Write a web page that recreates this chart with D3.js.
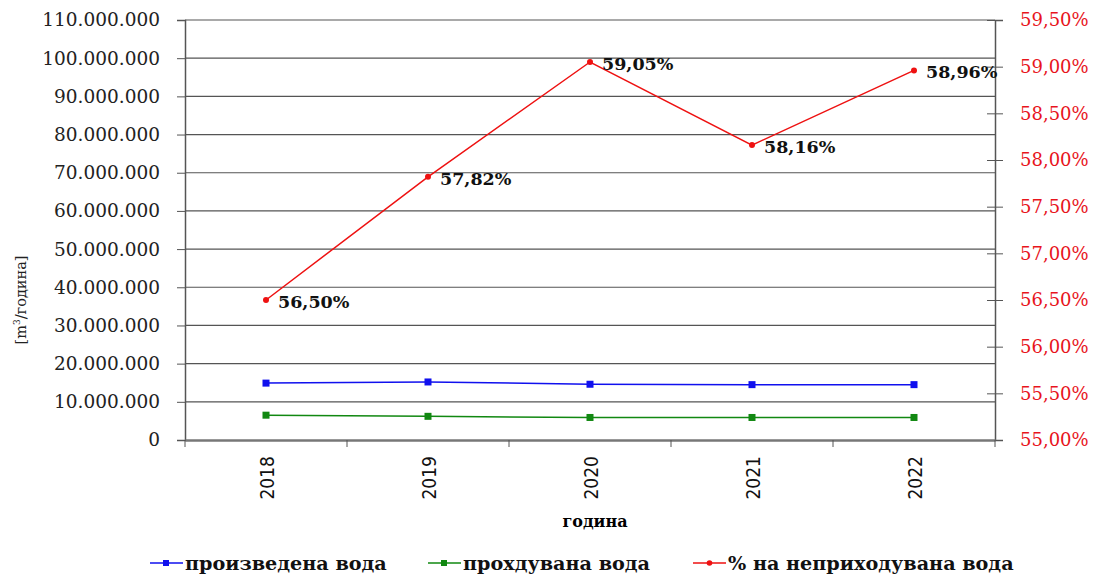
<!DOCTYPE html>
<html>
<head>
<meta charset="utf-8">
<script src="https://cdn.jsdelivr.net/npm/d3@7"></script>
<style>
  body { margin: 0; background: #fff; }
  svg { display: block; }
</style>
</head>
<body>
<svg id="canvas" width="1094" height="576"></svg>
<script>
const years = ['2018', '2019', '2020', '2021', '2022'];
const producedWater = [14900000, 15200000, 14600000, 14500000, 14500000];
const billedWater = [6500000, 6200000, 5900000, 5900000, 5900000];
const nonRevenuePct = [56.50, 57.82, 59.05, 58.16, 58.96];
const leftTicks = d3.range(0, 110000001, 10000000);
const rightTicks = [55, 55.5, 56, 56.5, 57, 57.5, 58, 58.5, 59, 59.5];

const plotLeft = 185, plotRight = 995, plotTop = 20, plotBottom = 440;
const serif = "'DejaVu Serif', serif";

let canvas = d3.select('#canvas');

const x = d3.scaleBand().domain(years).range([plotLeft, plotRight]);
const y = d3.scaleLinear().domain([0, 110000000]).range([plotBottom, plotTop]);
const y2 = d3.scaleLinear().domain([55, 59.5]).range([plotBottom, plotTop]);

const fmtThousands = v => d3.format(',')(v).replace(/,/g, '.');
const fmtPct = v => v.toFixed(2).replace('.', ',') + '%';

// grid
canvas.append('g')
    .selectAll('line')
    .data(leftTicks.slice(1))
    .enter()
    .append('line')
    .attr('x1', plotLeft).attr('x2', plotRight)
    .attr('y1', d => y(d)).attr('y2', d => y(d))
    .attr('stroke', '#555').attr('stroke-width', 1.2);

// left axis
const leftAxis = canvas.append('g')
    .attr('transform', `translate(${plotLeft},0)`)
    .call(d3.axisLeft(y).tickValues(leftTicks).tickFormat(fmtThousands).tickSize(8).tickPadding(17));
leftAxis.select('.domain').attr('stroke', '#555').attr('stroke-width', 1.5);
leftAxis.selectAll('.tick line').attr('stroke', '#555');
leftAxis.selectAll('text').attr('font-family', serif).attr('font-size', 18.5).attr('fill', '#222');

// right axis
const rightAxis = canvas.append('g')
    .attr('transform', `translate(${plotRight},0)`)
    .call(d3.axisRight(y2).tickValues(rightTicks).tickFormat(fmtPct).tickSize(8).tickPadding(17));
rightAxis.select('.domain').attr('stroke', '#555').attr('stroke-width', 1.5);
rightAxis.selectAll('.tick line').attr('stroke', '#555').attr('x1', -8);
rightAxis.selectAll('text').attr('font-family', serif).attr('font-size', 18).attr('fill', '#e8141c');

// bottom axis
const bottomAxis = canvas.append('g')
    .attr('transform', `translate(0,${plotBottom})`)
    .call(d3.axisBottom(x).tickSize(0).tickFormat(''));
bottomAxis.select('.domain').attr('stroke', '#777').attr('stroke-width', 2.5);
canvas.append('g')
    .selectAll('line')
    .data(years.concat(['end']))
    .enter()
    .append('line')
    .attr('x1', (d, i) => plotLeft + i * x.bandwidth())
    .attr('x2', (d, i) => plotLeft + i * x.bandwidth())
    .attr('y1', plotBottom).attr('y2', plotBottom + 7)
    .attr('stroke', '#555');

canvas.append('g')
    .selectAll('text')
    .data(years)
    .enter()
    .append('text')
    .attr('transform', d => `translate(${x(d) + x.bandwidth() / 2 + 8},${plotBottom + 16}) rotate(-90)`)
    .attr('text-anchor', 'end')
    .attr('font-family', "'DejaVu Sans Condensed', 'DejaVu Sans', sans-serif")
    .attr('font-size', 19)
    .attr('fill', '#111')
    .text(d => d);

// axis titles
canvas.append('text')
    .attr('x', 595).attr('y', 527)
    .attr('text-anchor', 'middle')
    .attr('font-family', serif).attr('font-weight', 'bold').attr('font-size', 16)
    .text('година');

const yTitle = canvas.append('text')
    .attr('transform', 'translate(26,300) rotate(-90)')
    .attr('text-anchor', 'middle')
    .attr('font-family', serif).attr('font-size', 14.5).attr('fill', '#222');
yTitle.append('tspan').text('[m');
yTitle.append('tspan').attr('font-size', 9).attr('dy', -6).text('3');
yTitle.append('tspan').attr('dy', 6).text('/година]');

// series
const center = d => x(d) + x.bandwidth() / 2;

const drawSeries = (values, scale, color, marker) => {
    canvas.append('path')
        .datum(values)
        .attr('fill', 'none')
        .attr('stroke', color)
        .attr('stroke-width', 1.5)
        .attr('d', d3.line().x((d, i) => center(years[i])).y(d => scale(d)));

    if (marker === 'square') {
        canvas.append('g')
            .selectAll('rect')
            .data(values)
            .enter()
            .append('rect')
            .attr('x', (d, i) => center(years[i]) - 3.5)
            .attr('y', d => scale(d) - 3.5)
            .attr('width', 7).attr('height', 7)
            .attr('fill', color);
    } else {
        canvas.append('g')
            .selectAll('circle')
            .data(values)
            .enter()
            .append('circle')
            .attr('cx', (d, i) => center(years[i]))
            .attr('cy', d => scale(d))
            .attr('r', 3)
            .attr('fill', color);
    }
};

drawSeries(producedWater, y, '#1010ee', 'square');
drawSeries(billedWater, y, '#118811', 'square');
drawSeries(nonRevenuePct, y2, '#ee1111', 'circle');

canvas.append('g')
    .selectAll('text')
    .data(nonRevenuePct)
    .enter()
    .append('text')
    .attr('x', (d, i) => center(years[i]) + 12)
    .attr('y', d => y2(d) + 8)
    .attr('font-family', serif).attr('font-weight', 'bold').attr('font-size', 17.5)
    .attr('fill', '#111')
    .text(d => fmtPct(d));

// legend
const legendItems = [
    { label: 'произведена вода', color: '#1010ee', marker: 'square', x: 150 },
    { label: 'прохдувана вода', color: '#118811', marker: 'square', x: 428 },
    { label: '% на неприходувана вода', color: '#ee1111', marker: 'circle', x: 693 }
];

const legend = canvas.append('g');
legendItems.forEach(item => {
    const g = legend.append('g').attr('transform', `translate(${item.x},563)`);
    g.append('line').attr('x1', 0).attr('x2', 33).attr('y1', 0).attr('y2', 0)
        .attr('stroke', item.color).attr('stroke-width', 1.5);
    if (item.marker === 'square') {
        g.append('rect').attr('x', 13).attr('y', -3).attr('width', 6).attr('height', 6).attr('fill', item.color);
    } else {
        g.append('circle').attr('cx', 16.5).attr('cy', 0).attr('r', 2.8).attr('fill', item.color);
    }
    g.append('text').attr('x', 35).attr('y', 7)
        .attr('font-family', serif).attr('font-weight', 'bold').attr('font-size', 19.2)
        .attr('fill', '#111')
        .text(item.label);
});
</script>
</body>
</html>
